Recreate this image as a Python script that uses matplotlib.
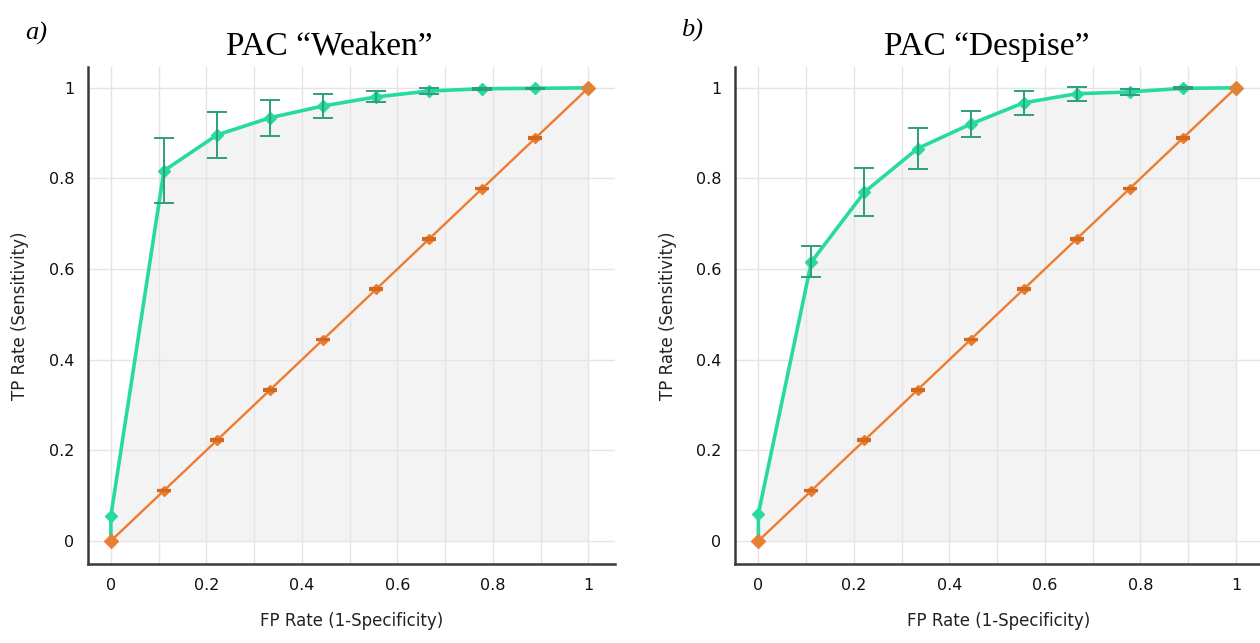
import matplotlib.pyplot as plt
import numpy as np

# ROC data, points at FP rate i/9
fp_rate = [0, 1/9, 2/9, 3/9, 4/9, 5/9, 6/9, 7/9, 8/9, 1]

tp_weaken = [0.055, 0.817, 0.896, 0.934, 0.960, 0.980, 0.993, 0.998, 0.999, 1.0]
err_weaken = [0.0, 0.072, 0.050, 0.040, 0.027, 0.012, 0.006, 0.002, 0.001, 0.0]

tp_despise = [0.060, 0.616, 0.770, 0.866, 0.920, 0.967, 0.987, 0.991, 0.999, 1.0]
err_despise = [0.0, 0.034, 0.053, 0.045, 0.029, 0.026, 0.015, 0.007, 0.002, 0.0]

tp_random = [0, 1/9, 2/9, 3/9, 4/9, 5/9, 6/9, 7/9, 8/9, 1]
err_random = [0.0, 0.002, 0.002, 0.002, 0.002, 0.002, 0.002, 0.002, 0.002, 0.0]

titles = ['PAC \u201cWeaken\u201d', 'PAC \u201cDespise\u201d']
panel_tags = ['a)', 'b)']
xticks = [0, 0.2, 0.4, 0.6, 0.8, 1]
tick_labels = ['0', '0.2', '0.4', '0.6', '0.8', '1']

GREEN = '#27dba0'
GREEN_ERR = '#2f9e7e'
ORANGE = '#ec7c30'
ORANGE_ERR = '#d2691e'
FILL = '#f3f3f3'
GRID = '#e4e4e4'
SPINE = '#3a3a3a'


def with_err(x, y, e):
    """ keep only points that have an error bar """
    keep = [i for i in range(len(e)) if e[i] > 0]
    return [x[i] for i in keep], [y[i] for i in keep], [e[i] for i in keep]


def draw_roc(ax, tp, err):
    ax.set_xlim(-0.048, 1.055)
    ax.set_ylim(-0.051, 1.046)

    # grey area under the model curve
    ax.fill_between([0] + fp_rate, [0] + tp, 0, color=FILL, zorder=0, lw=0)

    for x in np.arange(0, 1.01, 0.1):
        ax.axvline(x, color=GRID, lw=1, zorder=1)
    for y in xticks:
        ax.axhline(y, color=GRID, lw=1, zorder=1)

    # diagonal (random classifier)
    ax.plot(fp_rate, tp_random, color=ORANGE, lw=1.7, marker='D', ms=5.5, zorder=3)
    ex, ey, ee = with_err(fp_rate, tp_random, err_random)
    ax.errorbar(ex, ey, yerr=ee, fmt='none', ecolor=ORANGE_ERR, elinewidth=1.2,
                capsize=5, capthick=1.6, zorder=3)

    # model curve
    ax.plot([0] + fp_rate, [0] + tp, color=GREEN, lw=2.6, zorder=4)
    ax.plot(fp_rate, tp, 'D', color=GREEN, ms=6.5, zorder=5)
    ex, ey, ee = with_err(fp_rate, tp, err)
    ax.errorbar(ex, ey, yerr=ee, fmt='none', ecolor=GREEN_ERR, elinewidth=1.4,
                capsize=7, capthick=1.4, zorder=5)
    # orange end markers on top
    ax.plot([0, 1], [0, 1], 'D', color=ORANGE, ms=7, zorder=6, alpha=0.9, lw=0)

    ax.set_xticks(xticks)
    ax.set_xticklabels(tick_labels)
    ax.set_yticks(xticks)
    ax.set_yticklabels(tick_labels)
    ax.tick_params(length=0, labelsize=11.5, pad=10, colors='#111111')

    for side in ['top', 'right']:
        ax.spines[side].set_visible(False)
    for side in ['left', 'bottom']:
        ax.spines[side].set_color(SPINE)
        ax.spines[side].set_linewidth(1.8)

    ax.set_xlabel('FP Rate (1-Specificity)', fontsize=12, labelpad=14, color='#222222')
    ax.set_ylabel('TP Rate (Sensitivity)', fontsize=12, labelpad=14, color='#222222')


fig = plt.figure(figsize=(12.6, 6.43), dpi=100)
ax1 = fig.add_axes([0.0698, 0.1228, 0.418, 0.773])
ax2 = fig.add_axes([0.5837, 0.1228, 0.418, 0.773])

draw_roc(ax1, tp_weaken, err_weaken)
draw_roc(ax2, tp_despise, err_despise)

fig.text(329 / 1260, 1 - 47 / 643, titles[0], family='Liberation Serif', fontsize=24,
         ha='center', va='center')
fig.text(987 / 1260, 1 - 47 / 643, titles[1], family='Liberation Serif', fontsize=24,
         ha='center', va='center')
fig.text(36 / 1260, 1 - 33 / 643, panel_tags[0], family='Liberation Serif', style='italic',
         fontsize=19, ha='center', va='center')
fig.text(692 / 1260, 1 - 30 / 643, panel_tags[1], family='Liberation Serif', style='italic',
         fontsize=19, ha='center', va='center')

fig.savefig('out.png', dpi=100)
